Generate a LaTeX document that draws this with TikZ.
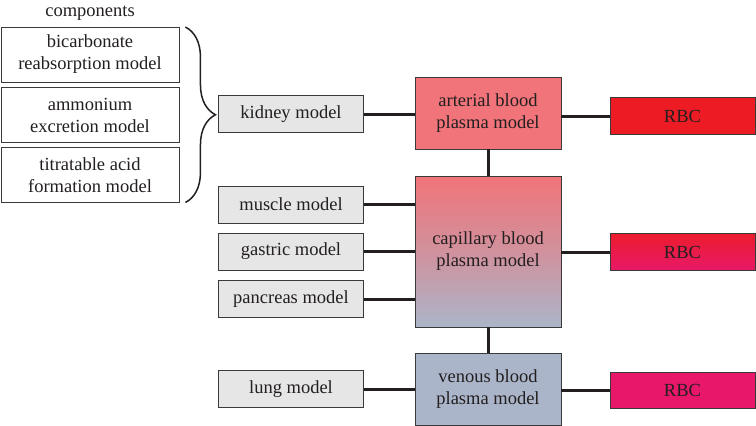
\documentclass[tikz,border=0pt]{standalone}
\usepackage{fontspec}
\setmainfont{Liberation Serif}
\usetikzlibrary{decorations.pathreplacing}
\definecolor{txt}{HTML}{231F20}
\definecolor{edge}{HTML}{3A3A3A}
\definecolor{greyfill}{HTML}{E6E6E7}
\definecolor{artfill}{HTML}{F07479}
\definecolor{venfill}{HTML}{ABB5C9}
\definecolor{rbcred}{HTML}{ED1C24}
\definecolor{rbcmidtop}{HTML}{EC1C2E}
\definecolor{rbcmidbot}{HTML}{E71967}
\definecolor{rbcpink}{HTML}{E8176A}
\definecolor{link}{HTML}{231F20}
\tikzset{
  every node/.style={font=\fontsize{18.5pt}{22pt}\selectfont, text=txt, align=center, inner sep=0pt},
  basebox/.style={draw=edge, line width=0.9pt},
  greybox/.style={basebox, fill=greyfill, minimum width=145pt, minimum height=37pt},
  compbox/.style={basebox, fill=white, minimum width=178pt, minimum height=55pt},
  plasma/.style={basebox, minimum width=146pt},
  rbcbox/.style={basebox, minimum width=145pt, minimum height=36.5pt},
  conn/.style={draw=link, line width=3pt},
}
\begin{document}
\begin{tikzpicture}[x=1pt,y=-1pt]
\useasboundingbox (0,0) rectangle (756,426);

% component boxes
\node (comptitle) at (90,13) {components};
\node[compbox] (c1) at (90,54.5) {bicarbonate\\reabsorption model};
\node[compbox] (c2) at (90,115) {ammonium\\excretion model};
\node[compbox] (c3) at (90,175) {titratable acid\\formation model};

% organ models
\node[greybox] (kidney) at (291,114) {kidney model};
\node[greybox] (muscle) at (291,204.5) {muscle model};
\node[greybox] (gastric) at (291,251.5) {gastric model};
\node[greybox] (pancreas) at (291,299) {pancreas model};
\node[greybox] (lung) at (291,389) {lung model};

% plasma models
\node[plasma, fill=artfill, minimum height=72pt] (art) at (488,113) {arterial blood\\plasma model};
\node[plasma, top color=artfill, bottom color=venfill, middle color=artfill!55!venfill, minimum height=151pt] (cap) at (488,251.5) {capillary blood\\plasma model};
\node[plasma, fill=venfill, minimum height=72pt] (ven) at (488,389) {venous blood\\plasma model};

% RBC
\node[rbcbox, fill=rbcred] (rbc1) at (682.5,116) {RBC};
\node[rbcbox, top color=rbcmidtop, bottom color=rbcmidbot] (rbc2) at (682.5,252) {RBC};
\node[rbcbox, fill=rbcpink] (rbc3) at (682.5,390.5) {RBC};

% brace
\draw[draw=txt, line width=1.5pt, decorate, decoration={brace, amplitude=30pt, aspect=0.5}]
  ([xshift=6pt,yshift=-0.5pt]c1.north east) -- ([xshift=6pt,yshift=0.5pt]c3.south east);

% connectors
\draw[conn] (kidney.east) -- (kidney.east -| art.west);
\draw[conn] (art.east |- rbc1.west) -- (rbc1.west);
\draw[conn] (art.south) -- (cap.north);
\draw[conn] (muscle.east) -- (muscle.east -| cap.west);
\draw[conn] (gastric.east) -- (gastric.east -| cap.west);
\draw[conn] (pancreas.east) -- (pancreas.east -| cap.west);
\draw[conn] (cap.east |- rbc2.west) -- (rbc2.west);
\draw[conn] (cap.south) -- (ven.north);
\draw[conn] (lung.east) -- (lung.east -| ven.west);
\draw[conn] (ven.east |- rbc3.west) -- (rbc3.west);
\end{tikzpicture}
\end{document}
